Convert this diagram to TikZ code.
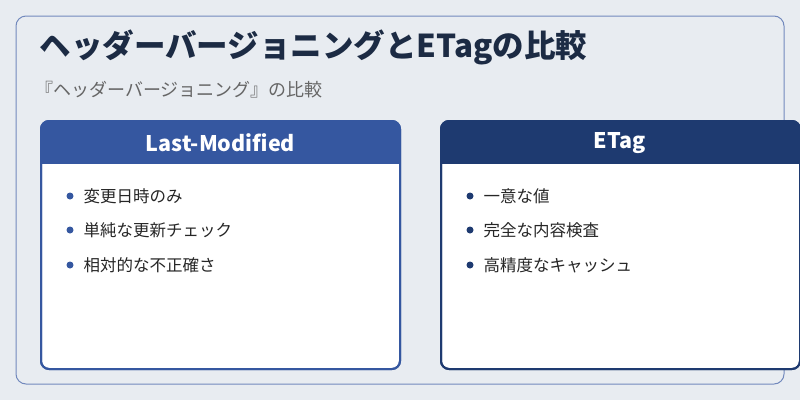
\documentclass[tikz,border=0pt]{standalone}
\usepackage{fontspec}
\setmainfont{Noto Sans CJK JP}
\begin{document}
\begin{tikzpicture}[x=1pt,y=-1pt,
  card/.style={draw=#1,line width=2pt,fill=white,rounded corners=8pt},
  htext/.style={text=white,font=\fontsize{21.5}{25}\selectfont\bfseries},
  item/.style={anchor=west,text=black!85,font=\fontsize{16.5}{19}\selectfont},
  dot/.style={circle,fill=#1,inner sep=0pt,minimum size=7pt}]
\definecolor{bg}{HTML}{E8ECF1}
\definecolor{lblue}{HTML}{3557A0}
\definecolor{dblue}{HTML}{1E3A70}
\definecolor{titlec}{HTML}{1C2B44}
\fill[bg] (0,0) rectangle (800,400);
\useasboundingbox (0,0) rectangle (800,400);
\draw[draw=lblue!70,line width=1pt,rounded corners=10pt] (16,16) rectangle (784,384);
\node[anchor=west,text=titlec,font=\fontsize{31.5}{36}\selectfont\bfseries] (t) at (36,47) {ヘッダーバージョニングとETagの比較};
\node[anchor=west,text=black!60,font=\fontsize{18}{21}\selectfont] (s) at (32,90) {『ヘッダーバージョニング』の比較};
% left card
\draw[card=lblue] (41,121) rectangle (400,369);
\begin{scope}
\clip[rounded corners=8pt] (41,121) rectangle (400,369);
\fill[lblue] (41,121) rectangle (400,164);
\end{scope}
\draw[lblue,line width=2pt,rounded corners=8pt] (41,121) rectangle (400,369);
\node[htext] (lh) at (220.5,143) {Last-Modified};
\foreach \t/\yy in {変更日時のみ/196,単純な更新チェック/230,相対的な不正確さ/265}{
  \node[dot=lblue] at (70,\yy) {};
  \node[item] at (80,\yy) {\t};}
% right card
\draw[card=dblue] (441,121) rectangle (800,369);
\begin{scope}
\clip[rounded corners=8pt] (441,121) rectangle (800,369);
\fill[dblue] (441,121) rectangle (800,164);
\end{scope}
\draw[dblue,line width=2pt,rounded corners=8pt] (441,121) rectangle (800,369);
\node[htext] (rh) at (620,143) {ETag};
\foreach \t/\yy in {一意な値/196,完全な内容検査/230,高精度なキャッシュ/265}{
  \node[dot=dblue] at (470,\yy) {};
  \node[item] at (480,\yy) {\t};}
\end{tikzpicture}
\end{document}
